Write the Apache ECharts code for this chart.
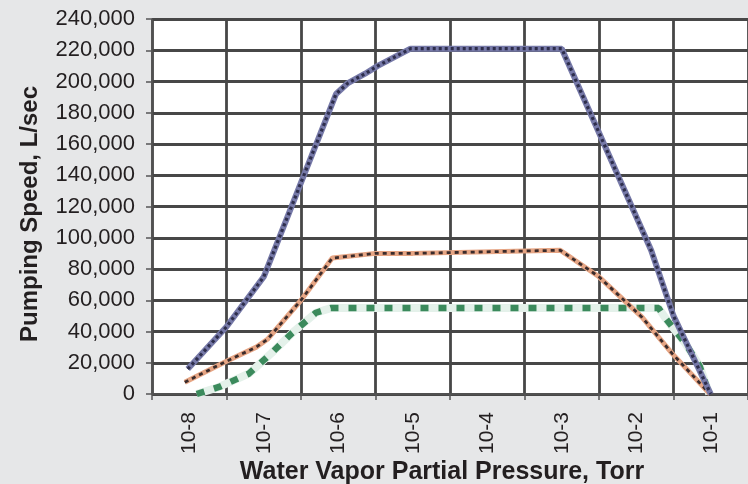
<!DOCTYPE html>
<html>
<head>
<meta charset="utf-8">
<script src="https://cdn.jsdelivr.net/npm/echarts@6/dist/echarts.min.js"></script>
<style>
html,body{margin:0;padding:0;background:#e6e7e8;}
#c{width:748px;height:484px;}
</style>
</head>
<body>
<div id="c"></div>
<script>
// Category labels (decades of pressure, Torr)
var categories = ['10-8', '10-7', '10-6', '10-5', '10-4', '10-3', '10-2', '10-1'];
// x positions are log10(pressure); -8 = centre of "10-8"
var blueX   = [-8.02, -7.5, -7.0, -6.03, -5.87, -5.64, -5.47, -5.03, -3.0, -1.8, -1.5, -1.0];
var blueY   = [16000, 43000, 75000, 192000, 199000, 205000, 210000, 221000, 221000, 92000, 50000, 0];
var orangeX = [-8.06, -7.5, -7.1, -6.95, -6.5, -6.08, -5.5, -5.0, -3.02, -2.5, -1.92, -1.52, -1.01];
var orangeY = [7500, 21000, 30000, 35000, 60000, 87000, 90000, 90000, 92000, 75000, 49000, 26000, 0];
var greenX  = [-7.9, -7.6, -7.2, -6.9, -6.62, -6.3, -6.1, -1.7, -1.6, -1.35, -1.15, -1.02];
var greenY  = [0, 4500, 13000, 26000, 39000, 52000, 55000, 55000, 48000, 33000, 18000, 0];
var yMin = 0, yMax = 240000, yStep = 20000;

function pairs(xs, ys) { return xs.map(function (x, i) { return [x, ys[i]]; }); }
function fmt(v) { return String(v).replace(/\B(?=(\d{3})+(?!\d))/g, ','); }

var font = 'Liberation Sans, Arial, sans-serif';
var gridCol = '#474747';
var chart = echarts.init(document.getElementById('c'), null, {renderer: 'canvas'});
chart.setOption({
  backgroundColor: '#e6e7e8',
  animation: false,
  grid: {left: 152, top: 19, right: -6, bottom: 90, show: true, backgroundColor: '#ffffff', borderWidth: 0},
  xAxis: [{
    type: 'category', data: categories, boundaryGap: true, position: 'bottom',
    axisLine: {lineStyle: {color: '#555', width: 1.5}},
    axisTick: {show: true, length: 6, lineStyle: {color: '#555', width: 1.5}},
    axisLabel: {rotate: 90, margin: 18, fontSize: 21, fontFamily: font, color: '#231f20'},
    splitLine: {show: true, lineStyle: {color: gridCol, width: 2.8}}
  }, {
    type: 'value', min: -8.5, max: -0.5, show: false,
    splitLine: {show: false}
  }],
  yAxis: {
    type: 'value', min: yMin, max: yMax, interval: yStep,
    axisLine: {show: true, lineStyle: {color: '#555', width: 1.5}},
    axisTick: {show: true, length: 6, lineStyle: {color: '#555', width: 1.5}},
    axisLabel: {margin: 17, fontSize: 22, fontFamily: font, color: '#231f20', formatter: fmt},
    splitLine: {show: true, lineStyle: {color: gridCol, width: 2.8}}
  },
  graphic: [{
    type: 'text', x: 30, y: 214, rotation: Math.PI / 2,
    style: {text: 'Pumping Speed, L/sec', font: 'bold 24px ' + font, fill: '#231f20', align: 'center', verticalAlign: 'middle'}
  }, {
    type: 'text', x: 442, y: 472,
    style: {text: 'Water Vapor Partial Pressure, Torr', font: 'bold 25px ' + font, fill: '#231f20', align: 'center', verticalAlign: 'middle'}
  }],
  series: [
    {type: 'line', xAxisIndex: 1, data: pairs(greenX, greenY), showSymbol: false, z: 3,
     lineStyle: {color: '#e4f1ea', width: 8}},
    {type: 'line', xAxisIndex: 1, data: pairs(greenX, greenY), showSymbol: false, z: 4,
     lineStyle: {color: '#3b8a5c', width: 6.5, type: [8, 10], cap: 'butt'}},
    {type: 'line', xAxisIndex: 1, data: pairs(orangeX, orangeY), showSymbol: false, z: 5,
     lineStyle: {color: '#e6a584', width: 5}},
    {type: 'line', xAxisIndex: 1, data: pairs(orangeX, orangeY), showSymbol: false, z: 6,
     lineStyle: {color: '#3a2b2b', width: 2.8, type: [4, 4], cap: 'butt'}},
    {type: 'line', xAxisIndex: 1, data: pairs(blueX, blueY), showSymbol: false, z: 7,
     lineStyle: {color: '#7679a8', width: 6}},
    {type: 'line', xAxisIndex: 1, data: pairs(blueX, blueY), showSymbol: false, z: 8,
     lineStyle: {color: '#2e2e4c', width: 3.2, type: [3, 3], cap: 'butt'}}
  ]
});
</script>
</body>
</html>
